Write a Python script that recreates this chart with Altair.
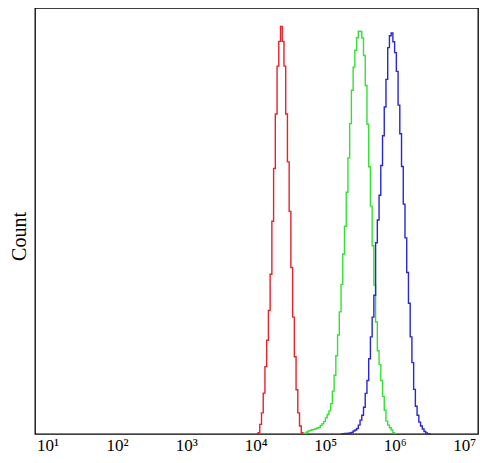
import altair as alt
import pandas as pd

# Histogram channel grid (log10 units): channel i starts at LOG0 + i * CH
LOG0 = 0.82
CH = 0.0249
LOG_MAX = 7.2

# Read counts per channel (arbitrary count units)
red_start = 128
red_counts = [0, 1.3, 9.7, 21.3, 41.3, 68, 94.7, 124.7, 161.3, 214.7, 268, 323, 371.3,
              396.3, 411.3, 396.3, 371.3, 323, 274.7, 224.7, 168, 118, 78, 44.7, 21.3,
              8, 1.3, 0]

green_start = 155
green_counts = [0, 0.7, 2, 3, 3.7, 4.3, 4.7, 5.3, 6, 6.7, 8.7, 10.3, 12.7, 16.3, 19.7,
                23.3, 30.7, 43.3, 59.3, 79, 100, 123.3, 151, 181.7, 209.7, 244, 278.7,
                313.3, 347, 370.3, 387.3, 400, 406.7, 406.3, 399.7, 382, 351.7, 312.7,
                269.7, 230, 190, 150.3, 113, 84, 70, 54, 38, 24, 13, 9, 6.3, 4, 1.3, 0]

blue_start = 177
blue_counts = [0, 0.3, 0.5, 0.5, 0.8, 1, 1.5, 3, 4, 5.5, 9, 14, 19, 27, 41, 54, 76, 98,
               118, 140, 193, 216, 241, 271, 301, 330, 358, 390, 402, 404.7, 396, 385,
               366, 332, 303, 270, 232, 198, 163, 132, 98, 72, 45, 28, 19, 12, 8, 5,
               2.5, 1, 0.2, 0]

series = [("red", red_start, red_counts, "#e5232b"),
          ("green", green_start, green_counts, "#35e035"),
          ("blue", blue_start, blue_counts, "#2727d4")]

rows = []
for name, start, counts, _ in series:
    for k, c in enumerate(counts + [0]):
        rows.append({"sample": name,
                     "fl": 10 ** (LOG0 + (start + k) * CH),
                     "count": c})
df = pd.DataFrame(rows)

tick_vals = [10, 100, 1000, 10000, 100000, 1000000, 10000000]
FONT = "Liberation Serif"

chart = alt.Chart(df).mark_line(
    interpolate="step-after", strokeWidth=1.4, clip=True
).encode(
    x=alt.X("fl:Q",
            scale=alt.Scale(type="log", domain=[10 ** LOG0, 10 ** LOG_MAX], nice=False),
            axis=alt.Axis(values=tick_vals, ticks=False, tickSize=0, grid=False,
                          domain=False, title=None,
                          labelExpr="'10' + ['','¹','²','³','⁴','⁵','⁶','⁷'][round(log(datum.value)/LN10)]",
                          labelFont=FONT, labelFontSize=17, labelColor="#000000",
                          labelBaseline="alphabetic", labelPadding=16,
                          labelFlush=False, labelOverlap=False)),
    y=alt.Y("count:Q",
            scale=alt.Scale(domain=[0, 430], nice=False, zero=True),
            axis=alt.Axis(labels=False, ticks=False, grid=False, domain=False,
                          title="Count", titleFont=FONT, titleFontSize=20,
                          titleFontWeight="normal", titleColor="#000000",
                          titleAngle=270, titleAlign="center", titleBaseline="middle",
                          titleX=-16, titleY=228)),
    color=alt.Color("sample:N",
                    scale=alt.Scale(domain=[s[0] for s in series],
                                    range=[s[3] for s in series]),
                    legend=None),
    detail="sample:N",
).properties(
    width=443, height=426,
    padding={"left": 27, "top": 0, "right": 1, "bottom": 21},
    autosize=alt.AutoSizeParams(type="none"),
    background="#ffffff",
).configure_view(
    stroke="#000000", strokeWidth=1.3
)

chart.save("out.html", embed_options={"renderer": "svg", "actions": False})
